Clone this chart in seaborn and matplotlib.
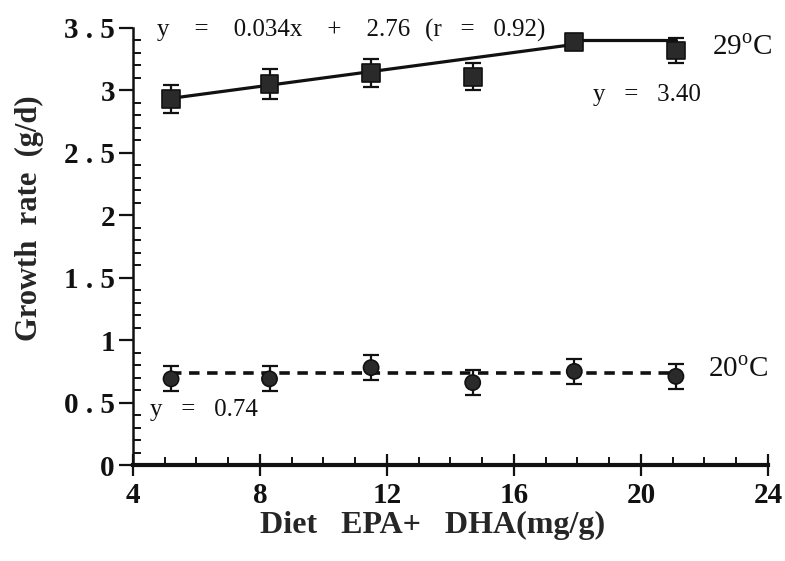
import matplotlib
matplotlib.use("Agg")
import matplotlib.pyplot as plt
from matplotlib.ticker import MultipleLocator
import numpy as np
import pandas as pd
import seaborn as sns

# Diet EPA+DHA content (mg/g) and growth rates (g/d) at two temperatures
diet = [5.2, 8.3, 11.5, 14.7, 17.9, 21.1]
growth_29 = [2.93, 3.05, 3.14, 3.11, 3.39, 3.32]
err_29 = [0.11, 0.12, 0.11, 0.11, 0.03, 0.10]
growth_20 = [0.69, 0.69, 0.78, 0.66, 0.75, 0.71]
err_20 = [0.10, 0.10, 0.10, 0.10, 0.10, 0.10]

# Fitted models
slope_29, icept_29 = 0.034, 2.76
plateau_29 = 3.40
mean_20 = 0.74

y_ticks = [0, 0.5, 1, 1.5, 2, 2.5, 3, 3.5]
y_ticklabels = ["0", "0 . 5", "1", "1 . 5", "2", "2 . 5", "3", "3 . 5"]

sns.set_style("ticks")
plt.rcParams["font.family"] = ["Liberation Serif", "DejaVu Serif"]
plt.rcParams["mathtext.fontset"] = "custom"
plt.rcParams["mathtext.rm"] = "Liberation Serif"

fig = plt.figure(figsize=(7.85, 5.61), dpi=100)
ax = fig.add_axes([0.1694, 0.1711, 0.8089, 0.779])

ink = "#111111"
mark = "#2a2a2a"

# Broken-line fit at 29 °C: linear rise, then plateau
x_lin = [diet[0], diet[4]]
fit = pd.DataFrame({"x": x_lin + [diet[4], diet[5]],
                    "y": [slope_29 * v + icept_29 for v in x_lin] + [plateau_29, plateau_29],
                    "seg": ["rise", "rise", "flat", "flat"]})
for seg, d in fit.groupby("seg"):
    sns.lineplot(data=d, x="x", y="y", ax=ax, color=ink, lw=2.3, legend=False)

# Constant fit at 20 °C
flat20 = pd.DataFrame({"x": [diet[0], diet[-1]], "y": [mean_20, mean_20]})
sns.lineplot(data=flat20, x="x", y="y", ax=ax, color=ink, lw=2.6, legend=False)
ax.lines[-1].set_dashes([2.9, 2.1])

# Error bars
for g, e in [(growth_29, err_29), (growth_20, err_20)]:
    ax.errorbar(diet, g, yerr=e, fmt="none", ecolor=ink,
                elinewidth=1.6, capsize=6, capthick=1.6, zorder=3)

# Means
pts = pd.DataFrame({"x": diet + diet, "y": growth_29 + growth_20,
                    "t": ["29"] * 6 + ["20"] * 6})
sns.scatterplot(data=pts, x="x", y="y", style="t", markers={"29": "s", "20": "o"},
                hue="t", palette={"29": mark, "20": mark}, s=150, edgecolor=ink,
                linewidth=1.2, ax=ax, legend=False, zorder=4, clip_on=False)
coll = ax.collections[-1]
coll.set_sizes(np.array([165] * 6 + [120] * 6))

# Axes, limits and ticks
ax.set_xlim(4, 24)
ax.set_ylim(0, 3.5)
ax.xaxis.set_major_locator(MultipleLocator(4))
ax.xaxis.set_minor_locator(MultipleLocator(1))
ax.yaxis.set_minor_locator(MultipleLocator(0.1))
ax.set_yticks(y_ticks)
ax.set_yticklabels(y_ticklabels)

for s in ["top", "right"]:
    ax.spines[s].set_visible(False)
ax.spines["bottom"].set_linewidth(3.0)
ax.spines["left"].set_linewidth(1.8)
ax.spines["bottom"].set_color(ink)
ax.spines["left"].set_color(ink)

ax.tick_params(axis="x", which="major", direction="inout", length=16, width=1.6,
               labelsize=21, pad=4, colors=ink)
ax.tick_params(axis="x", which="minor", direction="in", length=6, width=1.4, colors=ink)
ax.tick_params(axis="y", which="major", direction="out", length=10, width=1.6,
               labelsize=21, pad=3, colors=ink)
ax.tick_params(axis="y", which="minor", direction="in", length=6, width=1.4, colors=ink)
for lab in ax.get_xticklabels() + ax.get_yticklabels():
    lab.set_fontweight("bold")

ax.set_xlabel("Diet   EPA+   DHA(mg/g)", fontsize=23, fontweight="bold")
ax.set_ylabel("Growth  rate  (g/d)", fontsize=22, fontweight="bold")
ax.xaxis.set_label_coords(0.472, -0.105)
ax.yaxis.set_label_coords(-0.14, 0.565)

# Annotations
tkw = dict(fontsize=18, color=ink, va="center", ha="left", clip_on=False)
ax.text(4.75, 3.48, "y    =    0.034x    +    2.76", **tkw)
ax.text(13.2, 3.48, "(r   =   0.92)", **tkw)
ax.text(18.5, 2.96, "y   =   3.40", **tkw)
ax.text(4.55, 0.44, "y   =   0.74", **tkw)
ax.text(22.25, 3.34, "29$^{\\mathrm{o}}$C", fontsize=21, color=ink, va="center",
        ha="left", clip_on=False)
ax.text(22.1, 0.76, "20$^{\\mathrm{o}}$C", fontsize=21, color=ink, va="center",
        ha="left", clip_on=False)

fig.savefig("out.png", dpi=100, facecolor="white")
